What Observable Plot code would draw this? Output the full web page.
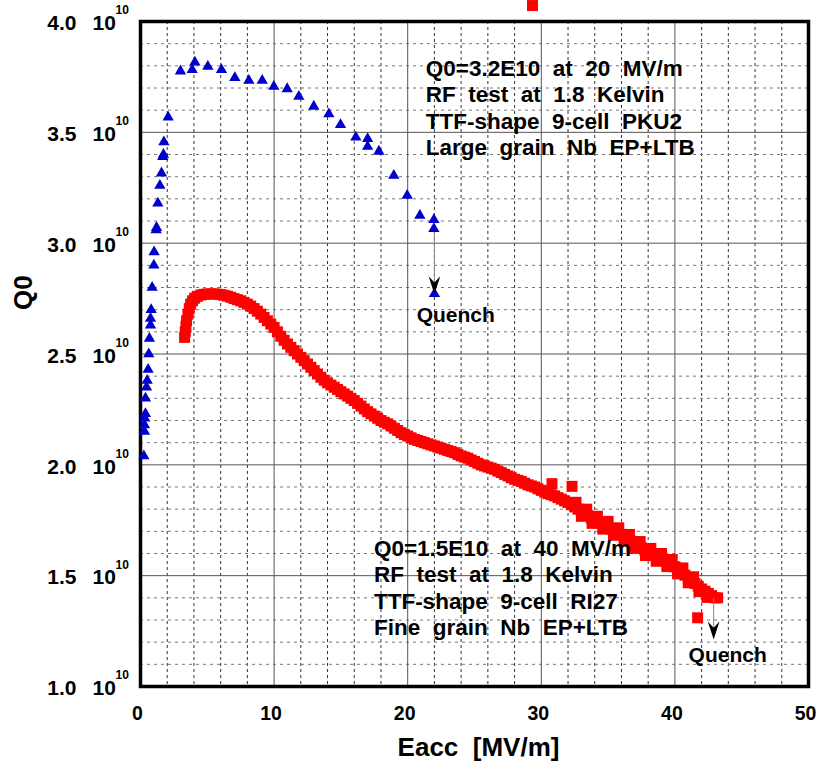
<!DOCTYPE html>
<html><head><meta charset="utf-8">
<script src="https://cdn.jsdelivr.net/npm/d3@7"></script>
<script src="https://cdn.jsdelivr.net/npm/@observablehq/plot@0.6"></script>
<style>
html,body{margin:0;padding:0;background:#fff;}
#chart svg text{white-space:pre;}
</style></head><body><div id="chart"></div>
<script>
// ---- data ----
const blueE = [0.25,0.30,0.30,0.32,0.37,0.37,0.45,0.50,0.57,0.62,0.67,0.75,0.75,0.80,0.87,1.00,1.02,1.17,1.20,1.30,1.45,1.57,1.67,1.72,1.75,2.07,
  2.99,3.87,4.07,5.04,6.06,7.06,8.11,9.11,9.98,10.98,11.85,12.97,14.10,14.97,16.12,17.00,17.00,17.84,18.96,19.96,20.91,21.96,21.96,22.00];
const blueQ = [2.04,2.15,2.18,2.21,2.23,2.30,2.35,2.38,2.43,2.50,2.57,2.63,2.66,2.70,2.80,2.90,2.96,3.06,3.07,3.18,3.26,3.316,3.39,3.40,3.456,3.568,
  3.776,3.782,3.816,3.797,3.782,3.746,3.734,3.734,3.707,3.696,3.662,3.617,3.583,3.534,3.478,3.471,3.436,3.414,3.305,3.215,3.125,3.106,3.065,2.772];

const redE = [
  3.30,3.35,3.40,3.45,3.55,3.65,3.75,3.90,4.05,4.25,4.50,4.75,5.00,5.25,5.50,5.75,6.00,6.25,6.50,6.75,
  7.00,7.25,7.50,7.75,8.00,8.25,8.50,8.75,9.00,9.25,9.50,9.75,10.00,10.25,10.50,10.75,11.00,11.25,11.50,11.75,
  12.00,12.25,12.50,12.75,13.00,13.25,13.50,13.75,14.00,14.25,14.50,14.75,15.00,15.25,15.50,15.75,16.00,16.25,16.50,16.75,
  17.00,17.25,17.50,17.75,18.00,18.25,18.50,18.75,19.00,19.25,19.50,19.75,20.00,20.25,20.50,20.75,21.00,21.25,21.50,21.75,
  22.00,22.25,22.50,22.75,23.00,23.25,23.50,23.75,24.00,24.25,24.50,24.75,25.00,25.25,25.50,25.75,26.00,26.25,26.50,26.75,
  27.00,27.25,27.50,27.75,28.00,28.25,28.50,28.75,29.00,29.25,29.50,29.75,30.00,30.25,30.50,30.75,31.00,31.25,31.50,31.75,
  32.00,32.25,32.50,32.75,33.00,33.25,33.50,33.75,34.00,34.25,34.50,34.75,35.00,35.25,35.50,35.75,36.00,36.25,36.50,36.75,
  37.00,37.25,37.50,37.75,38.00,38.25,38.50,38.75,39.00,39.25,39.50,39.75,40.00,40.25,40.50,40.75,41.00,41.25,41.50,41.75,
  42.00,42.25,42.50,42.75,43.00,43.20,
  32.6,33.4,34.2,35.0,35.8,36.6,37.4,38.2,39.0,39.8,40.6,41.4,
  33.0,33.8,34.6,35.4,36.2,37.0,37.8,38.6,39.4,40.2,41.0,41.8,42.4,
  30.8,32.3,41.7,29.34];
const redQ = [
  2.575,2.600,2.625,2.650,2.680,2.705,2.725,2.740,2.752,2.760,2.766,2.769,2.771,2.771,2.771,2.770,2.768,2.765,2.761,2.756,
  2.750,2.745,2.740,2.733,2.725,2.716,2.705,2.693,2.680,2.665,2.650,2.635,2.620,2.600,2.580,2.562,2.545,2.530,2.515,2.500,
  2.485,2.470,2.455,2.440,2.425,2.410,2.395,2.382,2.370,2.360,2.350,2.340,2.330,2.320,2.310,2.300,2.290,2.277,2.265,2.252,
  2.240,2.230,2.220,2.210,2.200,2.192,2.185,2.175,2.165,2.155,2.145,2.137,2.130,2.122,2.115,2.110,2.105,2.100,2.095,2.090,
  2.085,2.080,2.075,2.070,2.065,2.060,2.055,2.047,2.040,2.035,2.030,2.022,2.015,2.007,2.000,1.995,1.990,1.985,1.980,1.972,
  1.965,1.957,1.950,1.942,1.935,1.930,1.925,1.917,1.910,1.905,1.900,1.892,1.885,1.877,1.870,1.865,1.860,1.852,1.845,1.837,
  1.830,1.820,1.810,1.800,1.790,1.780,1.770,1.760,1.750,1.742,1.735,1.727,1.720,1.710,1.700,1.692,1.685,1.675,1.665,1.655,
  1.645,1.635,1.625,1.615,1.605,1.597,1.590,1.582,1.575,1.567,1.560,1.550,1.540,1.527,1.515,1.502,1.490,1.477,1.465,1.452,
  1.440,1.430,1.420,1.410,1.400,1.400,
  1.831,1.800,1.768,1.745,1.716,1.686,1.654,1.623,1.600,1.573,1.535,1.495,
  1.768,1.736,1.710,1.682,1.655,1.623,1.591,1.565,1.541,1.508,1.468,1.428,1.402,
  1.915,1.903,1.310,4.072];

const xTicks = [0,10,20,30,40,50];
const yTicks = [1.0,1.5,2.0,2.5,3.0,3.5,4.0];
const yTickLabels = ["1.0","1.5","2.0","2.5","3.0","3.5","4.0"];
const xMinor = [2,4,6,8,12,14,16,18,22,24,26,28,32,34,36,38,42,44,46,48];
const yMinor = [1.1,1.2,1.3,1.4,1.6,1.7,1.8,1.9,2.1,2.2,2.3,2.4,2.6,2.7,2.8,2.9,3.1,3.2,3.3,3.4,3.6,3.7,3.8,3.9];

const noteText = [
  "Q0=3.2E10  at  20  MV/m\nRF  test  at  1.8  Kelvin\nTTF-shape  9-cell  PKU2\nLarge  grain  Nb  EP+LTB",
  "Q0=1.5E10  at  40  MV/m\nRF  test  at  1.8  Kelvin\nTTF-shape  9-cell  RI27\nFine  grain  Nb  EP+LTB"
];
const noteX = [21.35, 17.47];
const noteY = [3.838, 1.673];

const quenchX = [23.6, 43.95];
const quenchY = [2.674, 1.14];
const arrowX = [22.0, 42.9];
const arrowFrom = [3.048, 1.40];
const arrowHeadY = [2.81, 1.253];

// ---- build ----
const blue = blueE.map((e,i)=>({e, q: blueQ[i]}));
const red = redE.map((e,i)=>({e, q: redQ[i]}));
const notes = noteText.map((t,i)=>({t, x: noteX[i], y: noteY[i]}));
const quench = quenchX.map((x,i)=>({x, y: quenchY[i]}));
const arrows = arrowX.map((x,i)=>({x, y1: arrowFrom[i], y2: arrowHeadY[i]}));

const arrowHead = {
  draw(ctx, size) {
    const r = Math.sqrt(size / Math.PI);
    ctx.moveTo(0, r);
    ctx.lineTo(-0.65*r, -r);
    ctx.lineTo(0, -0.3*r);
    ctx.lineTo(0.65*r, -r);
    ctx.closePath();
  }
};

const FONT = "'Liberation Sans', Arial, Helvetica, sans-serif";

const chart = Plot.plot({
  width: 817, height: 768,
  marginLeft: 140, marginRight: 9, marginTop: 21, marginBottom: 82,
  x: {domain: [0, 50], axis: null},
  y: {domain: [1, 4], axis: null},
  style: {fontFamily: FONT, fontWeight: "bold", background: "#fff", color: "#000", overflow: "visible"},
  marks: [
    Plot.ruleX(xMinor, {x: d=>d, stroke: "#333", strokeWidth: 1, strokeDasharray: "3,3"}),
    Plot.ruleY(yMinor, {y: d=>d, stroke: "#777", strokeWidth: 1, strokeDasharray: "3,4"}),
    Plot.ruleX(xTicks, {x: d=>d, stroke: "#555", strokeWidth: 1}),
    Plot.ruleY(yTicks, {y: d=>d, stroke: "#555", strokeWidth: 1}),
    Plot.frame({stroke: "#000", strokeWidth: 3.5}),
    Plot.dot(red, {x: "e", y: "q", symbol: "square", r: 6.2, fill: "#ff0000", stroke: "none", clip: false, ariaLabel: "red data"}),
    Plot.dot(blue, {x: "e", y: "q", symbol: "triangle", r: 4.2, fill: "#0000cc", stroke: "none", ariaLabel: "blue data"}),
    Plot.link(arrows, {x1: "x", x2: "x", y1: "y1", y2: "y2", stroke: "#888", strokeWidth: 1}),
    Plot.dot(arrows, {x: "x", y: "y2", symbol: arrowHead, r: 9, fill: "#000", stroke: "none"}),
    Plot.text(notes, {x: "x", y: "y", text: "t", textAnchor: "start", lineAnchor: "top", lineHeight: 1.17, fontSize: 22.5, fontWeight: "bold", fill: "#000", ariaLabel: "notes"}),
    Plot.text(quench, {x: "x", y: "y", text: () => "Quench", fontSize: 21, fontWeight: "bold", fill: "#000"}),
    // tick labels
    Plot.text(xTicks, {x: d=>d, text: d=>String(d), frameAnchor: "bottom", dx: -3, dy: 33, fontSize: 19.5, fontWeight: "bold", fill: "#000"}),
    Plot.text(yTicks, {y: d=>d, text: (d,i)=>yTickLabels[i], frameAnchor: "left", textAnchor: "end", dx: -64, dy: 2, fontSize: 21, fontWeight: "bold", fill: "#000"}),
    Plot.text(yTicks, {y: d=>d, text: () => "10", frameAnchor: "left", textAnchor: "start", dx: -48, dy: 2, fontSize: 21, fontWeight: "bold", fill: "#000"}),
    Plot.text(yTicks, {y: d=>d, text: () => "10", frameAnchor: "left", textAnchor: "start", dx: -25, dy: -11, fontSize: 12, fontWeight: "bold", fill: "#000"}),
    // axis titles
    Plot.text(["Eacc  [MV/m]"], {text: d=>d, frameAnchor: "bottom", dx: 4, dy: 69, fontSize: 26, fontWeight: "bold", fill: "#000"}),
    Plot.text(["Q0"], {text: d=>d, frameAnchor: "left", dx: -117, dy: -44, rotate: -90, fontSize: 26, fontWeight: "bold", fill: "#000"})
  ]
});

document.getElementById("chart").append(chart);

// white background boxes behind each annotation line
(function(){
  const NS = "http://www.w3.org/2000/svg";
  const noteG = chart.querySelector('g[aria-label="notes"]');
  const dataG = chart.querySelector('g[aria-label="red data"]');
  if (!noteG || !dataG) return;
  const bg = document.createElementNS(NS, "g");
  if (noteG.getAttribute("transform")) bg.setAttribute("transform", noteG.getAttribute("transform"));
  noteG.querySelectorAll("text").forEach(t => {
    const spans = t.querySelectorAll("tspan");
    const items = spans.length ? Array.from(spans) : [t];
    items.forEach(s => {
      const b = s.getBBox();
      const r = document.createElementNS(NS, "rect");
      r.setAttribute("x", b.x - 3);
      r.setAttribute("y", b.y);
      r.setAttribute("width", b.width + 6);
      r.setAttribute("height", b.height);
      r.setAttribute("fill", "#fff");
      if (t.getAttribute("transform")) r.setAttribute("transform", t.getAttribute("transform"));
      bg.appendChild(r);
    });
  });
  dataG.parentNode.insertBefore(bg, dataG);
})();
</script></body></html>
